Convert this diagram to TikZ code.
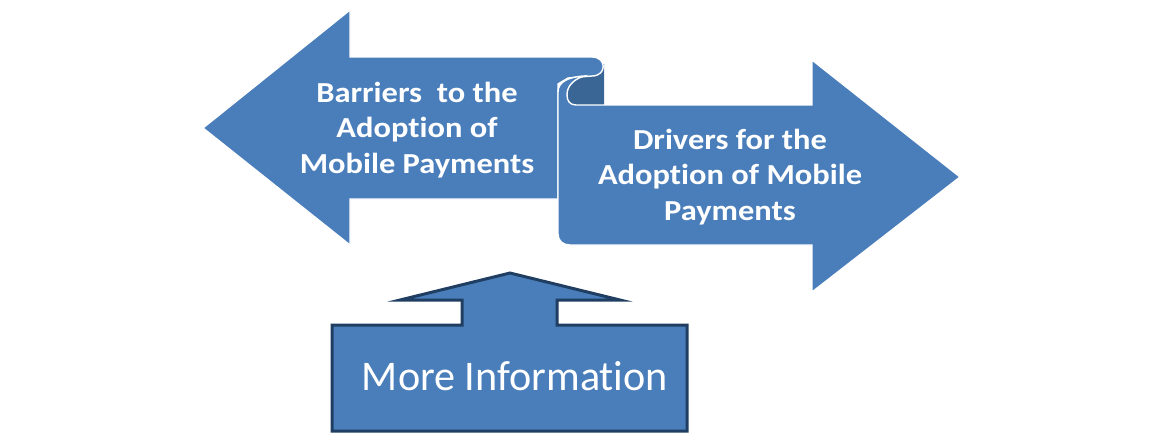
\documentclass[tikz,border=0pt]{standalone}
\usepackage{fontspec}
\setmainfont[Ligatures={NoCommon,NoContextual}]{Carlito}
\newfontfamily\arrowfont[FakeStretch=1.12, Ligatures={NoCommon,NoContextual}]{Carlito}
\usepackage{tikz}
\definecolor{arrowblue}{HTML}{4A7EBB}
\definecolor{rollblue}{HTML}{3A6696}
\definecolor{edgeblue}{HTML}{1F3E61}

\begin{document}
\begin{tikzpicture}[x=0.02cm, y=-0.02cm,
    arrowtext/.style={text=white, align=center, font=\arrowfont\bfseries\fontsize{16.5}{20}\selectfont},
    infotext/.style={text=white, font=\fontsize{24}{28}\selectfont}]
    \useasboundingbox (0,0) rectangle (1151,443);

    % inside of the roll
    \fill[rollblue] (566,72) -- (604,64) -- (604,106) -- (566,106) -- cycle;
    % barriers arrow
    \draw[white, fill=arrowblue, line width=0.8pt] (203,128) -- (350,10) -- (350,57) -- (592,57) .. controls (607,57) and (607,76) .. (592,76) -- (568,78) -- (558,84) -- (558,199) -- (350,199) -- (350,245) -- cycle;
    % drivers arrow, rolled at the top left
    \draw[white, fill=arrowblue, line width=0.8pt] (576,105) -- (812,105) -- (812,60) -- (960,177) -- (812,292) -- (812,245) -- (570,245) .. controls (563,245) and (558,241) .. (558,234) -- (558,92) .. controls (558,82) and (568,77) .. (584,76) .. controls (572,80) and (567,87) .. (567,95) .. controls (567,101) and (570,105) .. (576,105) -- cycle;

    \node[arrowtext] (barriers) at (417,130) {Barriers~ to the\\Adoption of\\Mobile Payments};
    \node[arrowtext] (drivers) at (730,177) {Drivers for the\\Adoption of Mobile\\Payments};

    % more information
    \draw[edgeblue, fill=arrowblue, line width=1.7pt] (332,431) -- (332,325) -- (462,325) -- (462,300) -- (400,300) -- (510,273) -- (620,300) -- (557,300) -- (557,325) -- (687,325) -- (687,431) -- cycle;
    \node[infotext] (info) at (515,376) {More Information};
\end{tikzpicture}
\end{document}
